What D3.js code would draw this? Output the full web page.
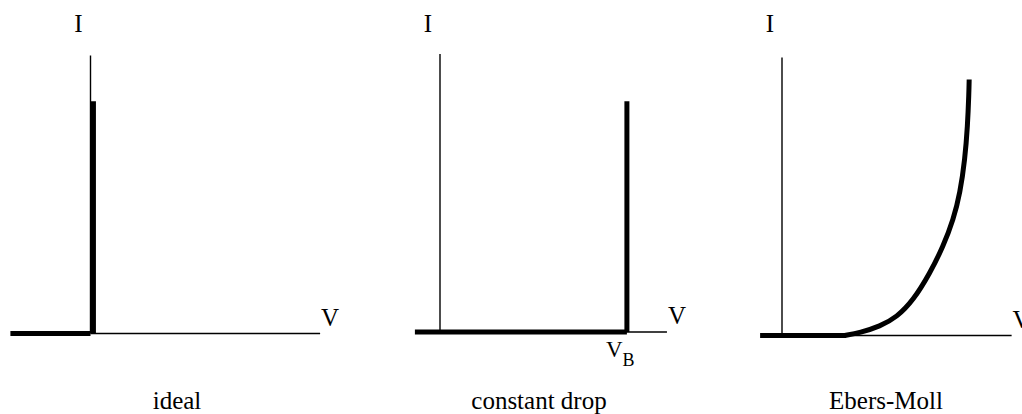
<!DOCTYPE html>
<html>
<head>
<meta charset="utf-8">
<script src="https://cdn.jsdelivr.net/npm/d3@7"></script>
<style>
  body { margin: 0; background: #fff; }
  text { font-family: "Liberation Serif", "Times New Roman", serif; fill: #000; }
</style>
</head>
<body>
<div id="chart"></div>
<script>
// Panel titles and axis labels
const panelTitles = ["ideal", "constant drop", "Ebers-Moll"];
const axisLabelI = "I";
const axisLabelV = "V";

// Axis extents (V in volts, I normalised)
const axisVMax = [0.86, 0.85, 0.86];
const axisIMax = [1, 1, 1];

// ideal diode: off below 0, vertical at 0
const idealOff = [[-0.30, 0], [0, 0]];
const idealOn = [[0.011, 0], [0.011, 0.835]];

// constant drop: off until V_B, then vertical
const vB = 0.70;
const dropOff = [[-0.094, 0], [vB, 0]];
const dropOn = [[vB, 0], [vB, 0.83]];

// Ebers-Moll exponential
const emOff = [[-0.082, 0], [0.24, 0]];
const emCurve = [
  [0.235, 0], [0.292, 0.010], [0.367, 0.033], [0.430, 0.066], [0.492, 0.127],
  [0.554, 0.224], [0.604, 0.321], [0.642, 0.417], [0.667, 0.513],
  [0.685, 0.633], [0.695, 0.753], [0.700, 0.873], [0.701, 0.921]
];

const series = [
  [{ pts: idealOff, curve: d3.curveLinear }, { pts: idealOn, curve: d3.curveLinear }],
  [{ pts: dropOff, curve: d3.curveLinear }, { pts: dropOn, curve: d3.curveLinear }],
  [{ pts: emOff, curve: d3.curveLinear }, { pts: emCurve, curve: d3.curveBasis }]
];

// Layout: origin of each panel and pixels per unit
const width = 1022, height = 414;
const origins = [[90.5, 333.5], [440, 332], [782, 335.5]];
const pxPerV = 267, pxPerI = 278;
const titleX = [177, 539, 886];
const titleY = 409;

const svg = d3.select("#chart")
  .append("svg")
  .attr("width", width)
  .attr("height", height);

panelTitles.forEach((title, i) => {
  const [ox, oy] = origins[i];
  const x = d3.scaleLinear().domain([0, 1]).range([ox, ox + pxPerV]);
  const y = d3.scaleLinear().domain([0, 1]).range([oy, oy - pxPerI]);
  const g = svg.append("g");

  // thin axes
  g.append("line")
    .attr("x1", x(0)).attr("x2", x(axisVMax[i]))
    .attr("y1", y(0)).attr("y2", y(0))
    .attr("stroke", "#000").attr("stroke-width", 1.4);
  g.append("line")
    .attr("x1", x(0)).attr("x2", x(0))
    .attr("y1", y(0)).attr("y2", y(axisIMax[i]))
    .attr("stroke", "#000").attr("stroke-width", 1.4);

  // thick characteristic
  series[i].forEach(s => {
    g.append("path")
      .datum(s.pts)
      .attr("fill", "none")
      .attr("stroke", "#000")
      .attr("stroke-width", 5)
      .attr("d", d3.line().x(d => x(d[0])).y(d => y(d[1])).curve(s.curve));
  });

  // axis labels
  g.append("text")
    .attr("x", x(0) - 12)
    .attr("y", 31.5)
    .attr("text-anchor", "middle")
    .attr("font-size", "25px")
    .text(axisLabelI);
  g.append("text")
    .attr("x", x(axisVMax[i]) + 1)
    .attr("y", y(0) - 8)
    .attr("font-size", "25px")
    .text(axisLabelV);

  // panel title
  g.append("text")
    .attr("x", titleX[i])
    .attr("y", titleY)
    .attr("text-anchor", "middle")
    .attr("font-size", "25px")
    .text(title);

  // V_B marker on the constant drop panel
  if (i === 1) {
    const t = g.append("text")
      .attr("x", x(vB) - 21)
      .attr("y", y(0) + 25)
      .attr("font-size", "23px");
    t.append("tspan").text("V");
    t.append("tspan").attr("dy", 9).attr("font-size", "18px").text("B");
  }
});
</script>
</body>
</html>
